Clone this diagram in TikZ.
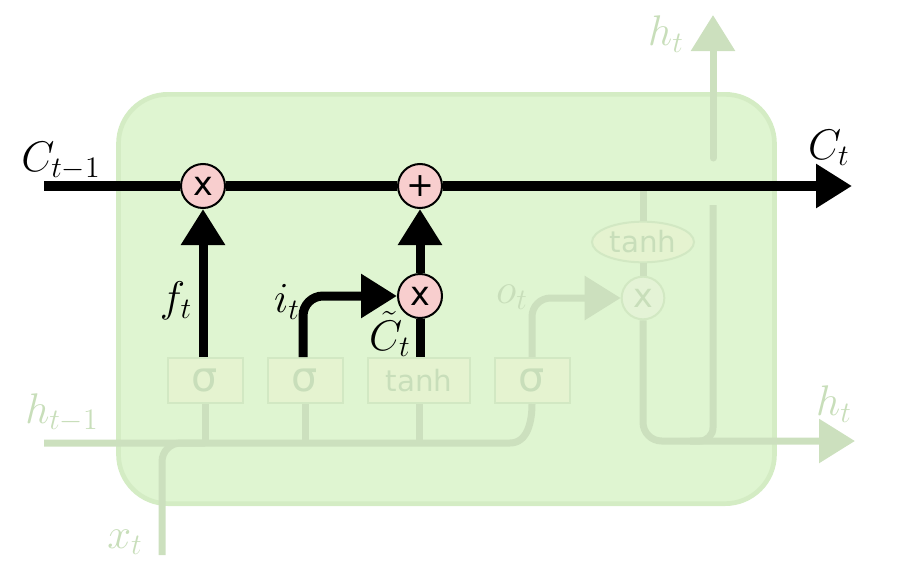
\documentclass[tikz,border=0pt]{standalone}
\usepackage{graphicx}
\usepackage{fontspec}
\newfontfamily\djv{DejaVu Sans}
\usetikzlibrary{arrows.meta,shapes.geometric}
\newcommand{\biglab}[1]{\scalebox{1.55}{\fontsize{20.74}{24}\selectfont #1}}
\definecolor{boxfill}{RGB}{223,245,209}
\definecolor{boxline}{RGB}{212,236,196}
\definecolor{faded}{RGB}{204,224,190}
\definecolor{gatefill}{RGB}{229,243,208}
\definecolor{gateline}{RGB}{210,232,195}
\definecolor{fadedtext}{RGB}{200,222,186}
\definecolor{pinkfill}{RGB}{248,206,206}
\definecolor{fmultfill}{RGB}{228,243,214}
\tikzset{
  mult/.style={circle, draw=black, line width=1.5pt, fill=pinkfill, minimum size=33pt, inner sep=0pt, font=\djv\fontsize{25}{25}\selectfont},
  fmult/.style={circle, draw=gateline, line width=1.5pt, fill=fmultfill, text=fadedtext, minimum size=32pt, inner sep=0pt, font=\djv\fontsize{25}{25}\selectfont},
  gate/.style={rectangle, draw=gateline, line width=1.5pt, fill=gatefill, text=fadedtext, minimum height=33.75pt, inner sep=0pt, font=\djv\fontsize{31}{31}\selectfont},
  tgate/.style={gate, font=\djv\fontsize{22}{24}\selectfont},
  tanhe/.style={ellipse, draw=gateline, line width=1.5pt, fill=gatefill, text=fadedtext, minimum width=76.5pt, minimum height=30.5pt, inner sep=0pt, font=\djv\fontsize{22}{24}\selectfont},
  cell/.style={line width=7.5pt, black},
  blk/.style={line width=6.75pt, black},
  fline/.style={line width=5.25pt, faded},
  blkarrow/.style={-{Triangle[length=27pt,width=31.5pt]}},
  farrow/.style={-{Triangle[length=27pt,width=32pt]}, faded},
  lbl/.style={inner sep=0pt},
  flbl/.style={lbl, text=fadedtext},
}
\begin{document}
\begin{tikzpicture}[x=0.75pt, y=-0.75pt]
\useasboundingbox (0,0) rectangle (900,564);
% cell body
\node[draw=boxline, fill=boxfill, line width=3.5pt, rounded corners=37pt, minimum width=492pt, minimum height=307pt, inner sep=0pt] (body) at (446.5,299) {};

% coordinates
\coordinate (cin) at (44,186);
\coordinate (cout) at (852,186);
\coordinate (hin) at (44,443);
\coordinate (xin) at (162,555);
\coordinate (hout) at (855,441);
\coordinate (ctap) at (643,186);
\coordinate (hcut) at (713,205);
\coordinate (hup0) at (713,158);
\coordinate (hup1) at (713,15);

% gates
\node[gate, minimum width=56.25pt] (s1) at (205,380.5) {σ};
\node[gate, minimum width=56.25pt] (s2) at (305,380.5) {σ};
\node[tgate, minimum width=76.5pt] (s3) at (419,380.5) {tanh};
\node[gate, minimum width=56.25pt] (s4) at (532,380.5) {σ};

% faded input lines
\draw[fline] (hin) -- (510,443) to[out=0,in=-90] (s4.south);
\draw[fline] (s1.south) -- (s1.south |- hin);
\draw[fline] (s2.south) -- (s2.south |- hin);
\draw[fline] (s3.south) -- (s3.south |- hin);
\draw[fline, rounded corners=14pt] (xin) |- (s1.south |- hin);

% output part
\node[tanhe] (th) at (643,242) {tanh};
\node[fmult] (m3) at (643,298) {x};
\draw[fline] (ctap) -- (th.north);
\draw[fline] (th.south) -- (m3.north);
\draw[fline, farrow, rounded corners=14pt] (s4.north) |- (m3.west);
\draw[fline, farrow, rounded corners=14pt] (m3.south) |- (hout);
\draw[fline, rounded corners=10pt] (hcut) |- (690,441);
\draw[fline, farrow, line cap=round] (hup0) -- (hup1);

% cell state line
\node[mult] (m1) at (203,186) {x};
\node[mult] (add) at (420,186) {+};
\node[mult] (m2) at (420,296) {x};
\draw[cell] (cin) -- (m1);
\draw[cell] (m1) -- (add);
\draw[cell, blkarrow] (add) -- (cout);

% gate arrows
\draw[blk, blkarrow] (m1 |- s1.north) -- (m1.south);
\draw[blk, blkarrow, rounded corners=15pt] (s2.north -| 303,0) |- (m2.west);
\draw[blk] (m2 |- s3.north) -- (m2.south);
\draw[blk, blkarrow] (m2.north) -- (add.south);

% labels
\node[lbl] (lc0) at (61,161) {\biglab{$C_{t-1}$}};
\node[lbl] (lc1) at (829,148) {\biglab{$C_t$}};
\node[lbl] (lf) at (176,301) {\biglab{$f_t$}};
\node[lbl] (li) at (287,302) {\biglab{$i_t$}};
\node[lbl] (lct) at (390,334) {\biglab{$\tilde{C}_t$}};
\node[flbl] (lo) at (512,297) {\biglab{$o_t$}};
\node[flbl] (lh1) at (666,34) {\biglab{$h_t$}};
\node[flbl] (lh2) at (834,404) {\biglab{$h_t$}};
\node[flbl] (lh0) at (62,413) {\biglab{$h_{t-1}$}};
\node[flbl] (lx) at (125,542) {\biglab{$x_t$}};
\end{tikzpicture}
\end{document}
